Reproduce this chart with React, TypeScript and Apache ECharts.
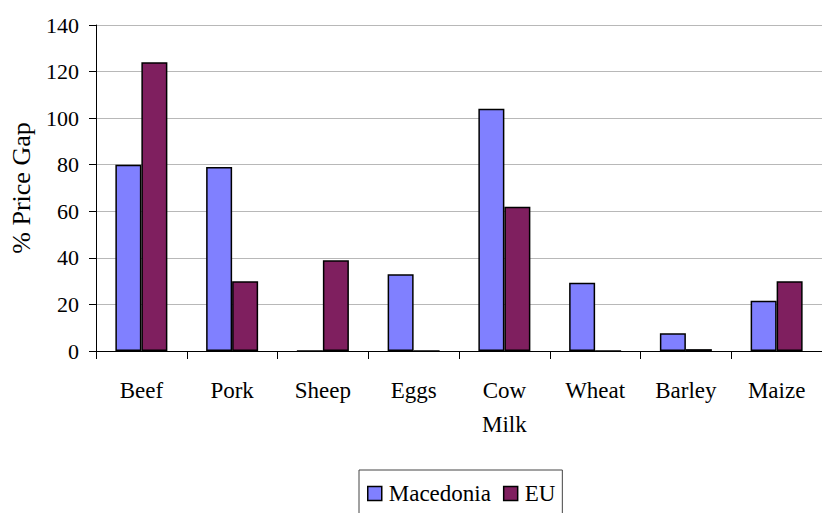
import React, { useEffect, useRef } from "react";
import * as echarts from "echarts";

const categories = ["Beef", "Pork", "Sheep", "Eggs", "Cow\nMilk", "Wheat", "Barley", "Maize"];
const macedonia = [80, 79, 0, 33, 104, 29.3, 7.6, 21.6];
const eu = [124, 30, 39, 0, 62, 0, 0.8, 30];
const yTicks = { min: 0, max: 140, interval: 20 };

const FONT = "Liberation Serif";

export default function App() {
  const ref = useRef<HTMLDivElement>(null);

  useEffect(() => {
    document.body.style.margin = "0";
    const chart = echarts.init(ref.current!, null, { renderer: "svg" });
    chart.setOption({
      animation: false,
      backgroundColor: "#ffffff",
      textStyle: { fontFamily: FONT, color: "#000" },
      grid: { left: 95, top: 25, width: 736, height: 326, containLabel: false },
      legend: {
        top: 470,
        left: 359,
        orient: "horizontal",
        icon: "rect",
        itemWidth: 14,
        itemHeight: 14,
        itemGap: 12,
        padding: [12, 7, 20, 8],
        borderColor: "#444",
        borderWidth: 1,
        itemStyle: { borderColor: "#000", borderWidth: 1.5 },
        textStyle: { fontFamily: FONT, fontSize: 23, color: "#000", padding: [0, 0, 0, 2] },
        data: ["Macedonia", "EU"],
      },
      xAxis: {
        type: "category",
        data: categories,
        axisLine: { lineStyle: { color: "#000", width: 1 } },
        axisTick: { show: true, length: 8, lineStyle: { color: "#000" } },
        axisLabel: {
          fontFamily: FONT,
          fontSize: 23,
          color: "#000",
          margin: 22,
          lineHeight: 34,
          verticalAlign: "top",
        },
        splitLine: { show: false },
      },
      yAxis: {
        type: "value",
        min: yTicks.min,
        max: yTicks.max,
        interval: yTicks.interval,
        name: "% Price Gap",
        nameLocation: "middle",
        nameGap: 62,
        nameTextStyle: { fontFamily: FONT, fontSize: 26, color: "#000" },
        axisLine: { show: true, lineStyle: { color: "#000", width: 1 } },
        axisTick: { show: true, length: 7, lineStyle: { color: "#000" } },
        axisLabel: { fontFamily: FONT, fontSize: 22, color: "#000", margin: 17 },
        splitLine: { show: true, lineStyle: { color: "#b8b8b8", width: 1 } },
      },
      series: [
        {
          name: "Macedonia",
          type: "bar",
          data: macedonia,
          barWidth: 26,
          barGap: "0%",
          itemStyle: { color: "#8080FF", borderColor: "#000", borderWidth: 1.5 },
        },
        {
          name: "EU",
          type: "bar",
          data: eu,
          barWidth: 26,
          barGap: "0%",
          itemStyle: { color: "#7F1F5F", borderColor: "#000", borderWidth: 1.5 },
        },
      ],
    });
    return () => chart.dispose();
  }, []);

  return <div ref={ref} style={{ width: 822, height: 513 }} />;
}
